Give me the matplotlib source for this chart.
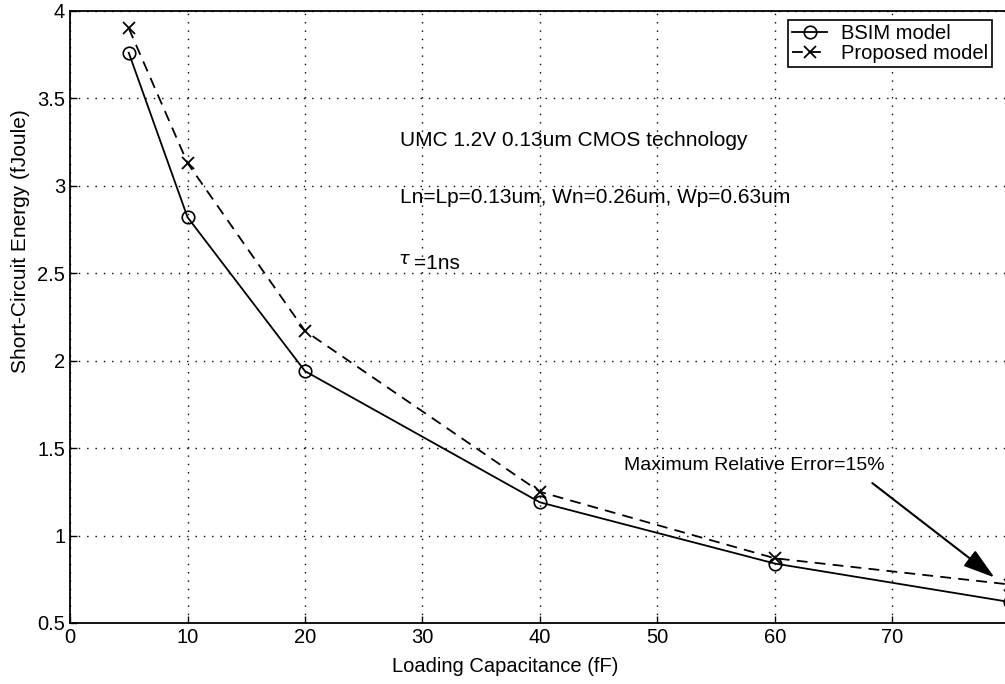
import matplotlib
matplotlib.use('Agg')
import matplotlib.pyplot as plt

# Loading capacitance (fF) and short-circuit energy (fJoule)
cap = [5, 10, 20, 40, 60, 80]
bsim = [3.76, 2.82, 1.94, 1.19, 0.84, 0.62]
proposed = [3.90, 3.13, 2.17, 1.25, 0.87, 0.72]

x_ticks = [0, 10, 20, 30, 40, 50, 60, 70]
y_ticks = [0.5, 1, 1.5, 2, 2.5, 3, 3.5, 4]

plt.rcParams['font.family'] = ['Liberation Sans', 'DejaVu Sans']

fig = plt.figure(figsize=(10.05, 6.84), dpi=100)
ax = fig.add_axes([0.0697, 0.0892, 0.935, 0.895])

ax.plot(cap, bsim, color='black', lw=1.3, marker='o', ms=9,
        mfc='none', mew=1.2, label='BSIM model')
ax.plot(cap, proposed, color='black', lw=1.3, ls=(0, (6, 4)), marker='x',
        ms=8, mew=1.3, label='Proposed model')

ax.set_xlim(0, 80)
ax.set_ylim(0.5, 4)
ax.set_xticks(x_ticks)
ax.set_yticks(y_ticks)
ax.set_yticklabels(['0.5', '1', '1.5', '2', '2.5', '3', '3.5', '4'])
ax.tick_params(direction='in', length=5, width=1, labelsize=14.5, colors='black')
ax.grid(True, color='black', ls=(0, (1, 5)), lw=1)
for s in ax.spines.values():
    s.set_linewidth(1.3)

ax.set_xlabel('Loading Capacitance (fF)', fontsize=14.5)
ax.xaxis.set_label_coords(0.463, -0.055)
ax.set_ylabel('Short-Circuit Energy (fJoule)', fontsize=15)
ax.yaxis.set_label_coords(-0.043, 0.623)

ax.text(28.1, 3.26, 'UMC 1.2V 0.13um CMOS technology', fontsize=15, va='center')
ax.text(28.1, 2.93, 'Ln=Lp=0.13um, Wn=0.26um, Wp=0.63um', fontsize=15, va='center')
ax.text(27.9, 2.58, r'$\tau$', fontsize=13, va='center')
ax.text(29.3, 2.555, '=1ns', fontsize=15, va='center')
ax.text(47.2, 1.40, 'Maximum Relative Error=15%', fontsize=14, va='center')
ax.annotate('', xy=(78.7, 0.76), xytext=(68.3, 1.30),
            arrowprops=dict(arrowstyle='-|>,head_length=1.3,head_width=0.4',
                            color='black', lw=1.5, mutation_scale=15,
                            shrinkA=0, shrinkB=0))

leg = ax.legend(loc='upper right', fontsize=14.5, frameon=True, fancybox=False,
                edgecolor='black', framealpha=1, borderpad=0.2,
                handlelength=1.7, handletextpad=0.7, labelspacing=0.05,
                borderaxespad=0, bbox_to_anchor=(0.981, 0.985))
leg.get_frame().set_linewidth(1.2)

fig.savefig('out.png', dpi=100)
